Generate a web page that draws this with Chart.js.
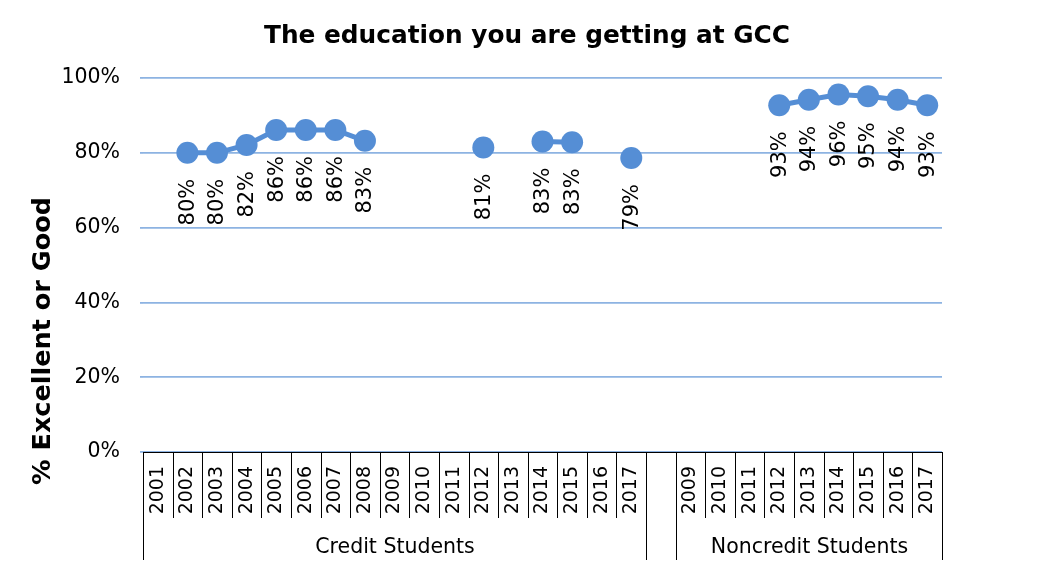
<!DOCTYPE html>
<html>
<head>
<meta charset="utf-8">
<script src="https://cdn.jsdelivr.net/npm/chart.js@4/dist/chart.umd.min.js"></script>
<style>
  html, body { margin: 0; padding: 0; background: #fff; }
  #wrap { width: 1054px; height: 575px; }
</style>
</head>
<body>
<div id="wrap"><canvas id="chart"></canvas></div>
<script>
// data
const creditYears = ['2001','2002','2003','2004','2005','2006','2007','2008','2009','2010','2011','2012','2013','2014','2015','2016','2017'];
const noncreditYears = ['2009','2010','2011','2012','2013','2014','2015','2016','2017'];
const creditValues = [null, 80.0, 80.0, 82.1, 86.1, 86.1, 86.1, 83.2, null, null, null, 81.4, null, 83.0, 82.8, null, 78.6];
const noncreditValues = [null, null, null, 92.7, 94.2, 95.6, 95.1, 94.2, 92.7];
const groupNames = ['Credit Students', 'Noncredit Students'];
const yTicks = [0, 20, 40, 60, 80, 100];
const chartTitle = 'The education you are getting at GCC';
const yTitle = '% Excellent or Good';

const FONT = "'DejaVu Sans', Verdana, sans-serif";
const BLUE = '#558ED5';

// one gap category between the two groups
const labels = creditYears.concat([''], noncreditYears);
const values = creditValues.concat([null], noncreditValues);

// group spans in category indexes
const groups = [
    { name: groupNames[0], from: 0, to: creditYears.length - 1 },
    { name: groupNames[1], from: creditYears.length + 1, to: labels.length - 1 }
];

// rotated value labels under each point
const pointLabels = {
    id: 'pointLabels',
    afterDatasetsDraw(chart) {
        const ctx = chart.ctx;
        const meta = chart.getDatasetMeta(0);
        ctx.save();
        ctx.font = '21px ' + FONT;
        ctx.fillStyle = '#000';
        ctx.textAlign = 'right';
        ctx.textBaseline = 'middle';
        meta.data.forEach((pt, i) => {
            const v = values[i];
            if (v === null) return;
            ctx.save();
            ctx.translate(pt.x + 1, pt.y + 26);
            ctx.rotate(-Math.PI / 2);
            ctx.fillText(Math.round(v) + '%', 0, 0);
            ctx.restore();
        });
        ctx.restore();
    }
};

// category separators, group row, chart title and y axis title
const axisDecor = {
    id: 'axisDecor',
    afterDraw(chart) {
        const ctx = chart.ctx;
        const x = chart.scales.x;
        const area = chart.chartArea;
        const half = (x.getPixelForValue(1) - x.getPixelForValue(0)) / 2;
        const edge = i => Math.round(x.getPixelForValue(i) - half) + 0.5;
        const rowBottom = area.bottom + 66;
        const groupBottom = area.bottom + 108;

        ctx.save();
        ctx.strokeStyle = '#000';
        ctx.lineWidth = 1;
        ctx.beginPath();
        for (let i = 0; i <= labels.length; i++) {
            const px = edge(i);
            ctx.moveTo(px, area.bottom);
            ctx.lineTo(px, rowBottom);
        }
        const tall = [0, creditYears.length, creditYears.length + 1, labels.length];
        tall.forEach(i => {
            const px = edge(i);
            ctx.moveTo(px, rowBottom);
            ctx.lineTo(px, groupBottom);
        });
        ctx.stroke();

        ctx.fillStyle = '#000';
        ctx.font = '20.5px ' + FONT;
        ctx.textAlign = 'center';
        ctx.textBaseline = 'middle';
        groups.forEach(g => {
            const cx = (edge(g.from) + edge(g.to + 1)) / 2;
            ctx.fillText(g.name, cx, area.bottom + 96);
        });

        ctx.font = 'bold 24.8px ' + FONT;
        ctx.fillText(chartTitle, chart.width / 2, 37);

        ctx.font = 'bold 25.5px ' + FONT;
        ctx.translate(43, 341);
        ctx.rotate(-Math.PI / 2);
        ctx.fillText(yTitle, 0, 0);
        ctx.restore();
    }
};

new Chart(document.getElementById('chart'), {
    type: 'line',
    data: {
        labels: labels,
        datasets: [{
            data: values,
            borderColor: BLUE,
            backgroundColor: BLUE,
            borderWidth: 5,
            pointRadius: 11,
            pointHoverRadius: 11,
            pointBorderWidth: 0,
            spanGaps: false,
            tension: 0
        }]
    },
    options: {
        responsive: true,
        maintainAspectRatio: false,
        animation: false,
        layout: { padding: { left: 0, right: 112, top: 78, bottom: 0 } },
        plugins: {
            legend: { display: false },
            tooltip: { enabled: false },
            title: { display: false }
        },
        scales: {
            x: {
                offset: true,
                grid: { display: true, drawOnChartArea: false, drawTicks: false },
                border: { display: true, color: '#000', width: 1 },
                ticks: {
                    color: '#000',
                    font: { family: FONT, size: 19 },
                    minRotation: 90,
                    maxRotation: 90,
                    autoSkip: false,
                    padding: 14
                },
                afterFit(scale) { scale.height = 123; }
            },
            y: {
                min: 0,
                max: 100,
                afterBuildTicks(scale) { scale.ticks = yTicks.map(v => ({ value: v })); },
                grid: { color: '#8DB3E2', lineWidth: 1.8, drawTicks: true, tickLength: 3 },
                border: { display: false },
                ticks: {
                    color: '#000',
                    font: { family: FONT, size: 20.5 },
                    padding: 20,
                    callback: v => v + '%'
                },
                afterFit(scale) { scale.width = 143; }
            }
        }
    },
    plugins: [pointLabels, axisDecor]
});
</script>
</body>
</html>
